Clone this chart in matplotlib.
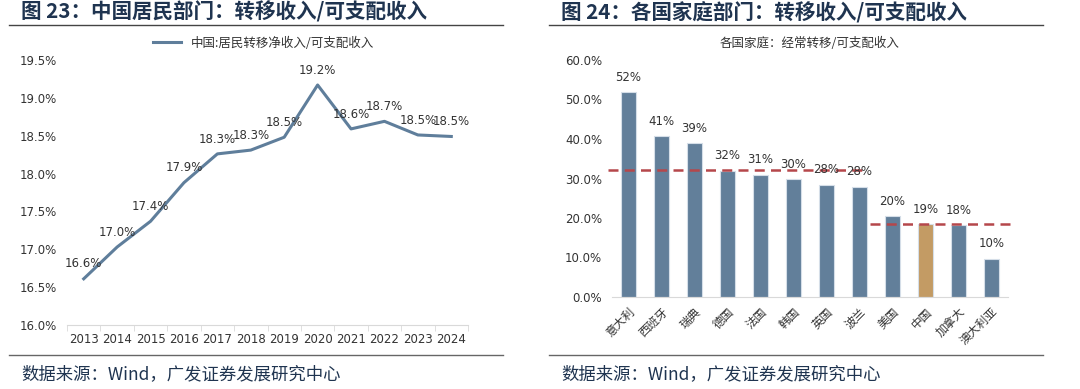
import numpy as np
import matplotlib
matplotlib.use("Agg")
from matplotlib import pyplot as plt
from matplotlib.lines import Line2D

plt.rcParams['font.family'] = ['Noto Sans CJK SC', 'DejaVu Sans']

years = ['2013', '2014', '2015', '2016', '2017', '2018', '2019', '2020', '2021', '2022', '2023', '2024']
cn_ratio = [16.61, 17.03, 17.37, 17.88, 18.26, 18.31, 18.48, 19.17, 18.59, 18.69, 18.51, 18.49]

countries = ['意大利', '西班牙', '瑞典', '德国', '法国', '韩国', '英国', '波兰', '美国', '中国', '加拿大', '澳大利亚']
hh_ratio = [51.9, 40.7, 39.0, 32.0, 31.0, 29.9, 28.4, 27.9, 20.4, 18.4, 18.2, 9.7]
hh_labels = ['52%', '41%', '39%', '32%', '31%', '30%', '28%', '28%', '20%', '19%', '18%', '10%']
avg_lines = [(-0.62, 7.17, 32.1), (7.32, 11.65, 18.5)]

W, H = 1080, 389
navy = '#1F3450'
line_c = '#5F7E9B'
bar_c = '#627F9A'
cn_c = '#C39B64'
red = '#B5474B'
txt = '#333333'

fig = plt.figure(figsize=(W / 100, H / 100), dpi=100)


def fx(px):
    return px / W


def fy(py):
    return 1 - py / H


def frame(x0, x1, title):
    fig.text(fx(x0 + 12), fy(12), title, fontsize=14.8, fontweight='bold', color=navy,
             va='center', ha='left')
    fig.add_artist(Line2D([fx(x0), fx(x1)], [fy(25), fy(25)], color='#444444', lw=1))
    fig.add_artist(Line2D([fx(x0), fx(x1)], [fy(355), fy(355)], color='#666666', lw=1))
    fig.text(fx(x0 + 12), fy(374), '数据来源：Wind，广发证券发展研究中心', fontsize=12.5,
             color=navy, va='center', ha='left')


frame(9, 503, '图 23：中国居民部门：转移收入/可支配收入')
frame(549, 1043, '图 24：各国家庭部门：转移收入/可支配收入')

# left chart
ax1 = fig.add_axes([fx(67), fy(325), fx(468 - 67), (325 - 60) / H])
x = np.arange(len(years))
ax1.plot(x, cn_ratio, color=line_c, lw=2.2, label='中国:居民转移净收入/可支配收入')
for xi, v in zip(x, cn_ratio):
    ax1.annotate(f'{v:.1f}%', (xi, v), xytext=(0, 6), textcoords='offset points',
                 ha='center', va='bottom', fontsize=8.5, color=txt, family='DejaVu Sans')
ax1.set_xlim(-0.5, len(years) - 0.5)
ax1.set_ylim(16.0, 19.5)
ax1.set_yticks(np.arange(16.0, 19.51, 0.5))
ax1.set_yticklabels([f'{t:.1f}%' for t in np.arange(16.0, 19.51, 0.5)])
ax1.set_xticks(x)
ax1.set_xticklabels(years)
ax1.set_xticks(np.arange(-0.5, len(years)), minor=True)
for s in ['top', 'right', 'left']:
    ax1.spines[s].set_visible(False)
ax1.spines['bottom'].set_color('#D9D9D9')
ax1.tick_params(axis='y', length=0, labelsize=8.5, labelcolor=txt, pad=7)
ax1.tick_params(axis='x', which='major', length=0, labelsize=8.5, labelcolor=txt, pad=6)
ax1.tick_params(axis='x', which='minor', length=4, color='#D9D9D9')
for lbl in ax1.get_xticklabels() + ax1.get_yticklabels():
    lbl.set_family('DejaVu Sans')
ax1.legend(loc='lower center', bbox_to_anchor=(0.49, 1.02), frameon=False, fontsize=9,
           handlelength=2.2, borderaxespad=0, labelcolor=txt)

# right chart
ax2 = fig.add_axes([fx(612), fy(297), fx(1008 - 612), (297 - 60) / H])
xc = np.arange(len(countries))
colors = [cn_c if c == '中国' else bar_c for c in countries]
ax2.bar(xc, hh_ratio, width=0.47, color=colors, edgecolor='#D5DEE8', linewidth=0.8)
for xi, v, s in zip(xc, hh_ratio, hh_labels):
    ax2.annotate(s, (xi, v), xytext=(0, 6), textcoords='offset points', ha='center',
                 va='bottom', fontsize=8.5, color=txt, family='DejaVu Sans')
for a, b, yv in avg_lines:
    ax2.plot([a, b], [yv, yv], color=red, lw=1.8, ls=(0, (4, 2.5)), clip_on=False)
ax2.set_xlim(-0.5, len(countries) - 0.5)
ax2.set_ylim(0, 60)
ax2.set_yticks(np.arange(0, 61, 10))
ax2.set_yticklabels([f'{t:.1f}%' for t in np.arange(0, 61, 10)])
ax2.set_xticks(xc)
ax2.set_xticklabels(countries, rotation=45, ha='right', rotation_mode='anchor')
for s in ['top', 'right', 'left']:
    ax2.spines[s].set_visible(False)
ax2.spines['bottom'].set_color('#D9D9D9')
ax2.tick_params(axis='y', length=0, labelsize=8.5, labelcolor=txt, pad=7)
ax2.tick_params(axis='x', length=0, labelsize=8.5, labelcolor=txt, pad=6)
for lbl in ax2.get_yticklabels():
    lbl.set_family('DejaVu Sans')
fig.text(fx(810), fy(43), '各国家庭：经常转移/可支配收入', fontsize=9, color=txt,
         ha='center', va='center')

fig.savefig('out.png', dpi=100)
